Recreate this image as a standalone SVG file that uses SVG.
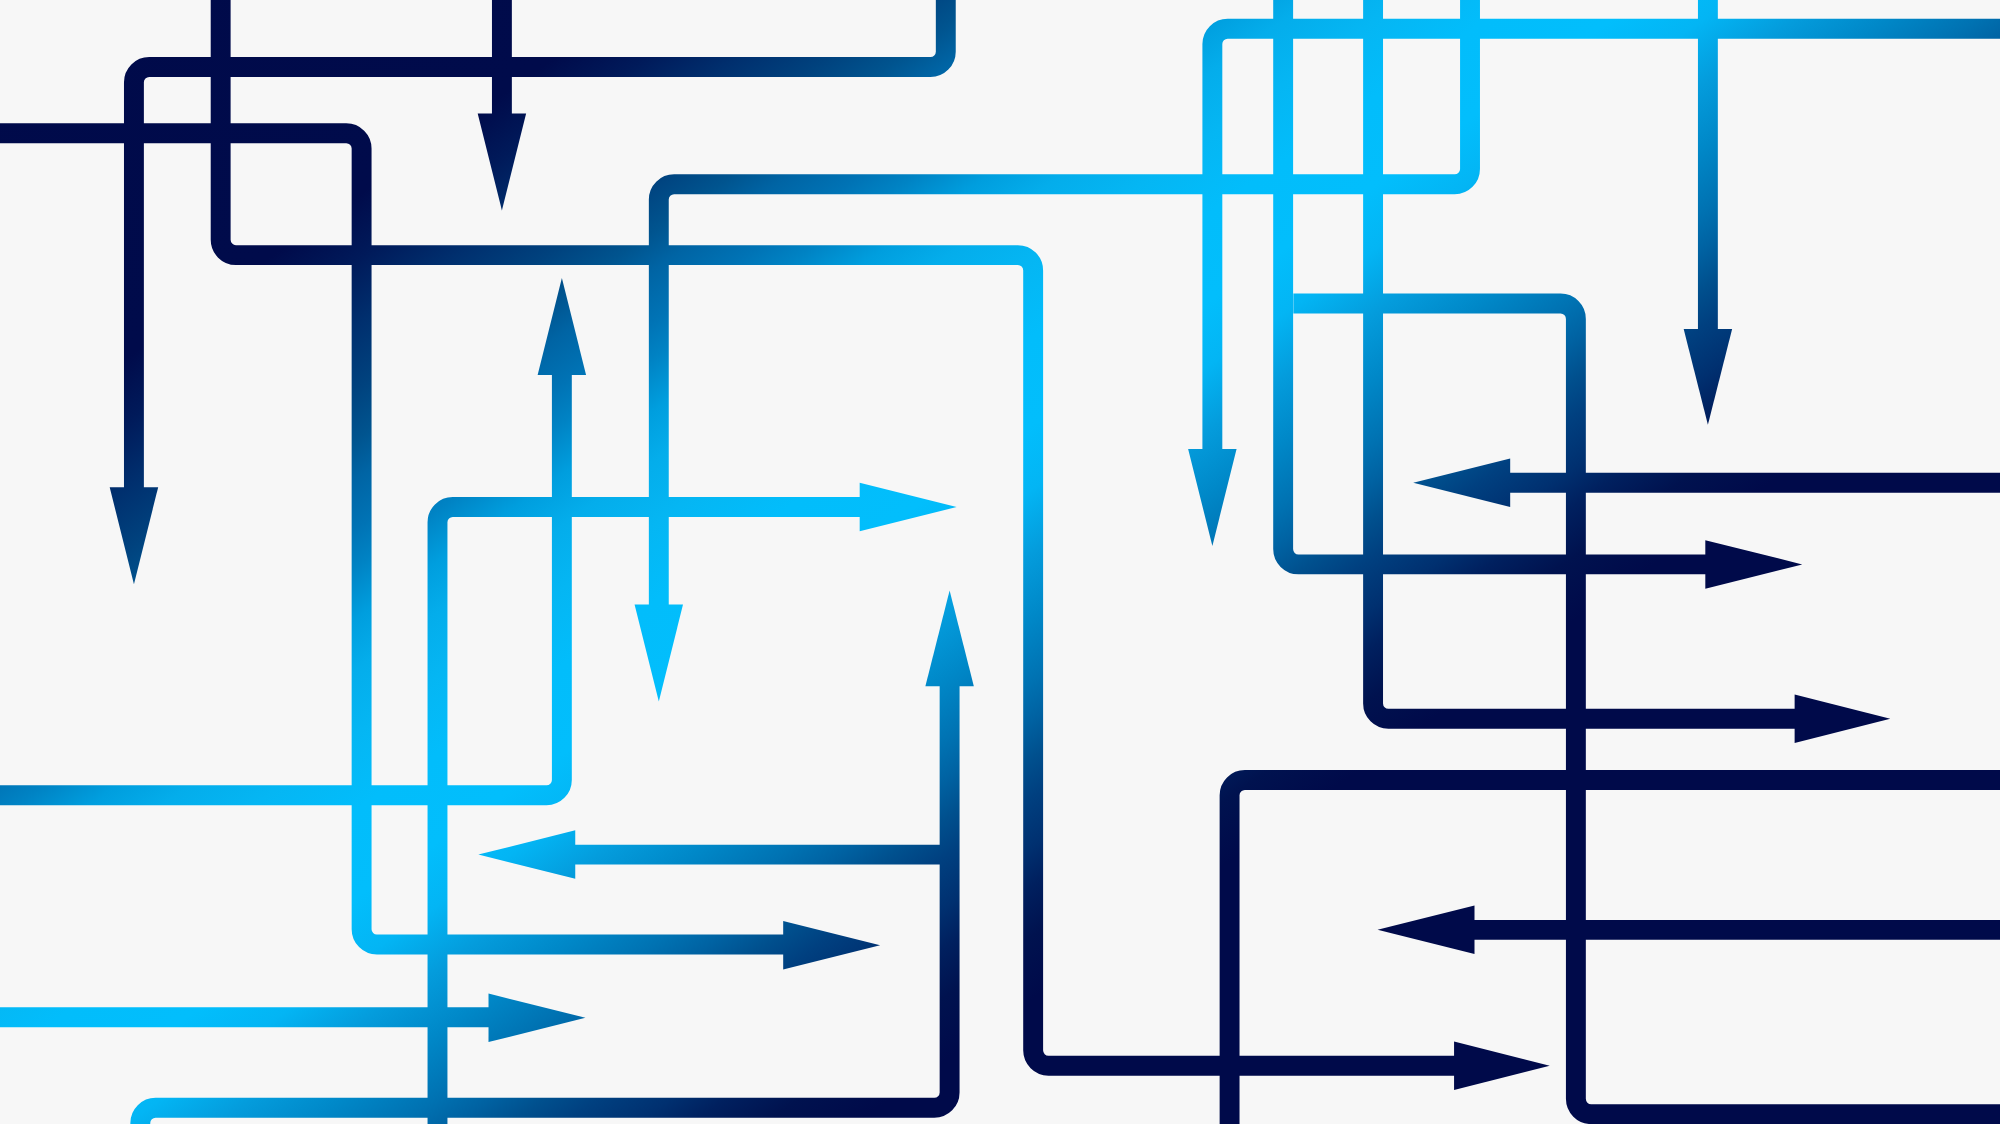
<svg xmlns="http://www.w3.org/2000/svg" width="2000" height="1124" viewBox="0 0 2000 1124">
<defs>
<linearGradient id="field" gradientUnits="userSpaceOnUse" x1="0" y1="0" x2="939.6" y2="1342.3">
<stop offset="0" stop-color="#000a4a"/>
<stop offset="0.175" stop-color="#000b4b"/>
<stop offset="0.2" stop-color="#001a5a"/>
<stop offset="0.225" stop-color="#002f6e"/>
<stop offset="0.25" stop-color="#00427e"/>
<stop offset="0.27" stop-color="#00548f"/>
<stop offset="0.285" stop-color="#0064a4"/>
<stop offset="0.305" stop-color="#0073b5"/>
<stop offset="0.32" stop-color="#0083c4"/>
<stop offset="0.34" stop-color="#009ede"/>
<stop offset="0.36" stop-color="#04adeb"/>
<stop offset="0.385" stop-color="#05b6f3"/>
<stop offset="0.415" stop-color="#02bdfb"/>
<stop offset="0.45" stop-color="#02befc"/>
<stop offset="0.475" stop-color="#03b5f4"/>
<stop offset="0.5" stop-color="#049cdc"/>
<stop offset="0.525" stop-color="#0088c8"/>
<stop offset="0.55" stop-color="#0072b2"/>
<stop offset="0.565" stop-color="#0062a2"/>
<stop offset="0.58" stop-color="#00508e"/>
<stop offset="0.595" stop-color="#004080"/>
<stop offset="0.615" stop-color="#003070"/>
<stop offset="0.63" stop-color="#00205f"/>
<stop offset="0.65" stop-color="#00124f"/>
<stop offset="0.675" stop-color="#000a4a"/>
<stop offset="1" stop-color="#000a4a"/>
</linearGradient>
</defs>
<style>
.band{fill:none;stroke:url(#field);stroke-width:15.6;stroke-linecap:butt;stroke-linejoin:miter}
.head{fill:url(#field);stroke:none}
</style>
<rect x="0" y="0" width="2000" height="1124" fill="#f7f7f7"/>
<g id="arrows" transform="scale(1.2755)">
<g id="arrow-a">
<path class="band" d="M741.5,-5 V40.5 A12,12 0 0 1 729.5,52.5 H117 A12,12 0 0 0 105,64.5 V383"/>
<polygon class="head" points="86,382 124,382 105,458"/>
</g>
<g id="arrow-b">
<path class="band" d="M-5,104.5 H271.5 A12,12 0 0 1 283.5,116.5 V728.5 A12,12 0 0 0 295.5,740.5 H615"/>
<polygon class="head" points="614,722 614,760 690,741"/>
</g>
<g id="arrow-c">
<path class="band" d="M173,-5 V188 A12,12 0 0 0 185,200 H798 A12,12 0 0 1 810,212 V823.5 A12,12 0 0 0 822,835.5 H1141"/>
<polygon class="head" points="1140,816.5 1140,854.5 1215,835.5"/>
</g>
<g id="arrow-d">
<path class="band" d="M393.5,-5 V90"/>
<polygon class="head" points="374.5,89 412.5,89 393.5,165"/>
</g>
<g id="arrow-e">
<path class="band" d="M-5,623.5 H428.5 A12,12 0 0 0 440.5,611.5 V293"/>
<polygon class="head" points="421.5,294 459.5,294 440.5,218"/>
</g>
<g id="arrow-f">
<path class="band" d="M343,890 V409.5 A12,12 0 0 1 355,397.5 H675"/>
<polygon class="head" points="674,378.5 674,416.5 750,397.5"/>
</g>
<g id="arrow-g">
<path class="band" d="M110,890 V880.5 A12,12 0 0 1 122,868.5 H732.5 A12,12 0 0 0 744.5,856.5 V537"/>
<polygon class="head" points="725.5,538 763.5,538 744.5,463"/>
</g>
<g id="arrow-h">
<path class="band" d="M-5,797.5 H384"/>
<polygon class="head" points="383,779 383,817 459,798"/>
</g>
<g id="arrow-i">
<path class="band" d="M744,670 H450"/>
<polygon class="head" points="451,651 451,689 375,670"/>
</g>
<g id="arrow-j">
<path class="band" d="M1152.5,-5 V132.5 A12,12 0 0 1 1140.5,144.5 H528.5 A12,12 0 0 0 516.5,156.5 V475"/>
<polygon class="head" points="497.5,474 535.5,474 516.5,550"/>
</g>
<g id="arrow-k">
<path class="band" d="M1575,22.5 H962.5 A12,12 0 0 0 950.5,34.5 V353"/>
<polygon class="head" points="931.5,352 969.5,352 950.5,428"/>
</g>
<g id="arrow-l">
<path class="band" d="M1006,-5 V430.5 A12,12 0 0 0 1018,442.5 H1338"/>
<polygon class="head" points="1337,423.5 1337,461.5 1413,442.5"/>
</g>
<g id="arrow-m">
<path class="band" d="M1076.5,-5 V551.5 A12,12 0 0 0 1088.5,563.5 H1408"/>
<polygon class="head" points="1407,544.5 1407,582.5 1482,563.5"/>
</g>
<g id="arrow-n">
<path class="band" d="M1339,-5 V259"/>
<polygon class="head" points="1320,258 1358,258 1339,333"/>
</g>
<g id="arrow-o">
<path class="band" d="M1014,238 H1223.5 A12,12 0 0 1 1235.5,250 V861.5 A12,12 0 0 0 1247.5,873.5 H1575"/>
</g>
<g id="arrow-p">
<path class="band" d="M1575,378.5 H1183"/>
<polygon class="head" points="1184,359.5 1184,397.5 1108,378.5"/>
</g>
<g id="arrow-q">
<path class="band" d="M1575,611.5 H976 A12,12 0 0 0 964,623.5 V890"/>
</g>
<g id="arrow-r">
<path class="band" d="M1575,729 H1155"/>
<polygon class="head" points="1156,710 1156,748 1080,729"/>
</g>
</g>
</svg>
